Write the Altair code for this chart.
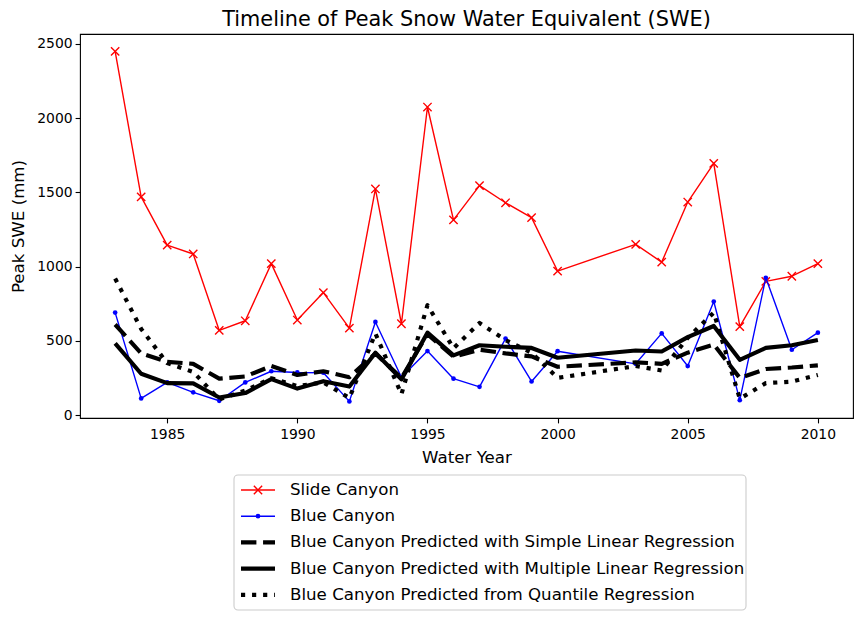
import altair as alt
import pandas as pd

years = list(range(1983, 2001)) + list(range(2003, 2011))
slide = [2450, 1470, 1145, 1085, 570, 635, 1020, 640, 825, 585, 1523, 615, 2075,
         1315, 1545, 1430, 1330, 970, 1150, 1030, 1435, 1695, 595, 900, 935, 1020]
blue = [690, 112, 220, 153, 96, 220, 295, 287, 285, 92, 627, 255, 431,
        245, 190, 515, 226, 430, 345, 550, 330, 765, 100, 925, 440, 555]
simple = [610, 416, 358, 345, 245, 260, 330, 270, 295, 255, 415, 250, 545,
          393, 440, 415, 395, 325, 355, 345, 420, 475, 250, 310, 320, 335]
multiple = [483, 278, 215, 213, 118, 148, 242, 178, 228, 192, 420, 240, 555,
            402, 470, 460, 452, 386, 435, 428, 525, 600, 372, 452, 470, 505]
quantile = [920, 580, 350, 290, 105, 165, 248, 195, 220, 115, 550, 140, 740,
            450, 620, 505, 420, 250, 330, 300, 520, 690, 110, 215, 225, 270]

labels = [
    "Slide Canyon",
    "Blue Canyon",
    "Blue Canyon Predicted with Simple Linear Regression",
    "Blue Canyon Predicted with Multiple Linear Regression",
    "Blue Canyon Predicted from Quantile Regression",
]

df = pd.DataFrame({"year": years, "slide": slide, "blue": blue, "simple": simple,
                   "multiple": multiple, "quantile": quantile})

FONT = "DejaVu Sans"
LW = 4.17  # 3pt
THIN = 1.39  # 1pt
DASH = [15.4, 6.67]
DOT = [4.17, 6.88]
XPATH = "M-1,-1L1,1M1,-1L-1,1"

W, H = 773, 384

xs = alt.Scale(domain=[1981.65, 2011.35], nice=False, zero=False)
ys = alt.Scale(domain=[-20, 2567], nice=False, zero=False)

xenc = alt.X("year:Q", scale=xs, title="Water Year",
             axis=alt.Axis(values=[1985, 1990, 1995, 2000, 2005, 2010], format="d"))

base = alt.Chart(df)


def yenc(col):
    return alt.Y(f"{col}:Q", scale=ys, title="Peak SWE (mm)",
                 axis=alt.Axis(values=[0, 500, 1000, 1500, 2000, 2500], format="d"))


layers = [
    base.mark_line(color="red", strokeWidth=THIN, strokeJoin="round").encode(x=xenc, y=yenc("slide")),
    base.mark_point(shape=XPATH, size=69, color="red", strokeWidth=THIN, filled=False, opacity=1).encode(x=xenc, y=yenc("slide")),
    base.mark_line(color="blue", strokeWidth=THIN, strokeJoin="round").encode(x=xenc, y=yenc("blue")),
    base.mark_circle(color="blue", size=22, opacity=1).encode(x=xenc, y=yenc("blue")),
    base.mark_line(color="black", strokeWidth=LW, strokeDash=DASH, strokeJoin="round").encode(x=xenc, y=yenc("simple")),
    base.mark_line(color="black", strokeWidth=LW, strokeJoin="round").encode(x=xenc, y=yenc("multiple")),
    base.mark_line(color="black", strokeWidth=LW, strokeDash=DOT, strokeJoin="round").encode(x=xenc, y=yenc("quantile")),
]

# custom legend below the plot
one = alt.Chart(pd.DataFrame({"k": [0]}))
box = one.mark_rect(fill="white", stroke="#cccccc", strokeWidth=1.1, cornerRadius=4).encode(
    x=alt.value(154), x2=alt.value(666), y=alt.value(441), y2=alt.value(576))
layers.append(box)

row0, step = 456, 26.2
lx1, lx2, lmid, tx = 161, 195, 178, 210
styles = [
    dict(color="red", strokeWidth=THIN),
    dict(color="blue", strokeWidth=THIN),
    dict(color="black", strokeWidth=LW, strokeDash=DASH),
    dict(color="black", strokeWidth=LW),
    dict(color="black", strokeWidth=LW, strokeDash=DOT),
]
for i, (lab, st) in enumerate(zip(labels, styles)):
    yy = row0 + i * step
    layers.append(one.mark_rule(**st).encode(x=alt.value(lx1), x2=alt.value(lx2), y=alt.value(yy)))
    if i == 0:
        layers.append(one.mark_point(shape=XPATH, size=69, color="red", strokeWidth=THIN, filled=False, opacity=1).encode(
            x=alt.value(lmid), y=alt.value(yy)))
    if i == 1:
        layers.append(one.mark_circle(color="blue", size=22, opacity=1).encode(x=alt.value(lmid), y=alt.value(yy)))
    layers.append(one.mark_text(text=lab, align="left", baseline="middle", fontSize=16.67, font=FONT, color="black").encode(
        x=alt.value(tx), y=alt.value(yy)))

chart = alt.layer(*layers).properties(
    width=W, height=H,
    title=alt.TitleParams("Timeline of Peak Snow Water Equivalent (SWE)", fontSize=20.8, font=FONT,
                          fontWeight="normal", anchor="middle", color="black", offset=3),
    autosize=alt.AutoSizeParams(type="none"),
    padding={"left": 72, "top": 26, "right": 2, "bottom": 195},
).configure_view(stroke="black", strokeWidth=1.1).configure_axis(
    grid=False, domain=False, tickColor="black", tickWidth=1.1, tickSize=4.9,
    labelFont=FONT, labelFontSize=13.9, labelColor="black", labelPadding=3,
    titleFont=FONT, titleFontSize=16.67, titleFontWeight="normal", titleColor="black",
).configure_axisX(labelPadding=5, titlePadding=8).configure_axisY(titlePadding=9)

chart.save("out.html", embed_options={"renderer": "svg", "actions": False})
